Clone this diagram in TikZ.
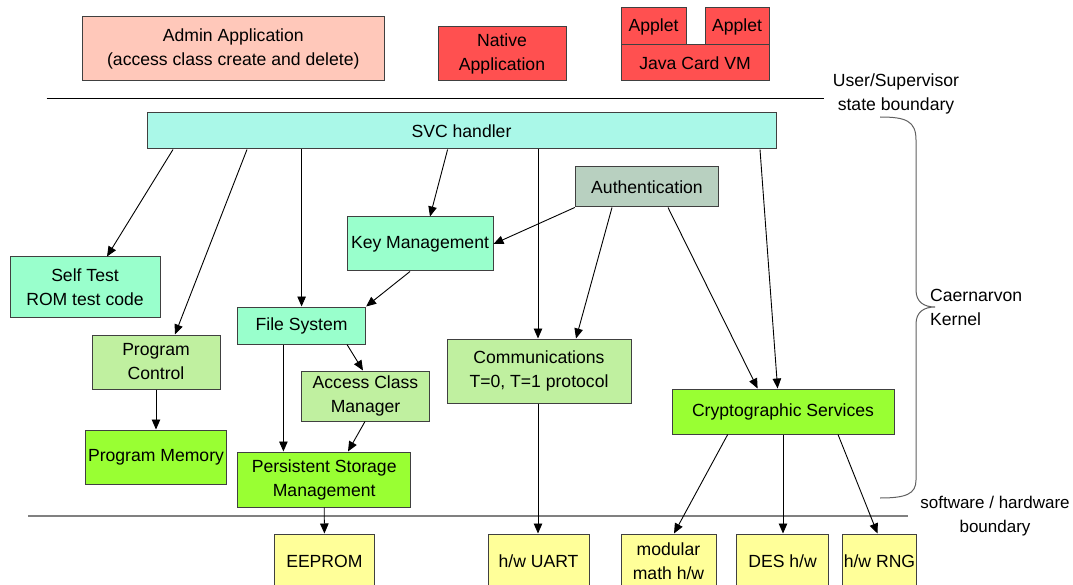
\documentclass[tikz,border=0pt]{standalone}
\usepackage{fontspec}
\setmainfont{Liberation Sans}
\usetikzlibrary{arrows.meta}
\definecolor{bordercol}{HTML}{404040}
\definecolor{adminfill}{HTML}{FFC8BA}
\definecolor{redfill}{HTML}{FF5050}
\definecolor{svcfill}{HTML}{AAF8E8}
\definecolor{aquafill}{HTML}{99FFCC}
\definecolor{authfill}{HTML}{B8D0C0}
\definecolor{lgreenfill}{HTML}{C0F0A0}
\definecolor{greenfill}{HTML}{99FF33}
\definecolor{hwfill}{HTML}{FFFF99}
\definecolor{bracecol}{HTML}{606060}
\definecolor{hwline}{HTML}{808080}
\begin{document}
\begin{tikzpicture}[x=1pt,y=-1pt,
  box/.style={draw=bordercol, line width=1pt, inner sep=0pt, align=center,
    font=\fontsize{17.6}{24}\selectfont},
  lbl/.style={inner sep=0pt, align=center, font=\fontsize{17.6}{24}\selectfont},
  arr/.style={draw=black, line width=0.9pt, -{Triangle[length=10pt,width=8.5pt]}}
]
\useasboundingbox (0,0) rectangle (1073,585);
\clip (0,0) rectangle (1073,585);
% top applications
\node[box, fill=adminfill, minimum width=301.4pt, minimum height=64pt] (admin) at (233.3,49) {Admin Application\\(access class create and delete)};
\node[box, fill=redfill, minimum width=128pt, minimum height=54pt] (native) at (502,54) {Native\\Application};
\node[box, fill=redfill, minimum width=65pt, minimum height=37pt] (applet1) at (653.5,26.5) {Applet};
\node[box, fill=redfill, minimum width=64pt, minimum height=37pt] (applet2) at (737,26.5) {Applet};
\node[box, fill=redfill, minimum width=148pt, minimum height=36pt] (jcvm) at (695,63) {Java Card VM};
% boundaries
\coordinate (usl) at (46.5,99);
\coordinate (usr) at (824,99);
\draw[line width=1pt] (usl) -- (usr);
\node[lbl] (uslabel) at (896,94) {User/Supervisor\\state boundary};
\coordinate (hwl) at (28,516);
\coordinate (hwr) at (908,516);
\draw[hwline, line width=1.5pt] (hwl) -- (hwr);
\node[lbl, font=\fontsize{17}{24}\selectfont] (hwlabel) at (995,516.5) {software / hardware\\boundary};
% kernel
\node[box, fill=svcfill, minimum width=629pt, minimum height=36pt] (svc) at (461.5,131) {SVC handler};
\node[box, fill=authfill, minimum width=143.5pt, minimum height=40pt] (auth) at (647,187) {Authentication};
\node[box, fill=aquafill, minimum width=146pt, minimum height=54pt] (keymgmt) at (420,244) {Key Management};
\node[box, fill=aquafill, minimum width=150pt, minimum height=60pt] (selftest) at (85,287) {Self Test\\ROM test code};
\node[box, fill=aquafill, minimum width=128pt, minimum height=37pt] (filesys) at (301.6,325.5) {File System};
\node[box, fill=lgreenfill, minimum width=128pt, minimum height=54pt] (progctrl) at (156,362) {Program\\Control};
\node[box, fill=lgreenfill, minimum width=128pt, minimum height=50pt] (access) at (365.5,396) {Access Class\\Manager};
\node[box, fill=lgreenfill, minimum width=184pt, minimum height=64pt] (comm) at (539,371) {Communications\\T=0, T=1 protocol};
\node[box, fill=greenfill, minimum width=222pt, minimum height=45pt] (crypto) at (783,411.5) {Cryptographic Services};
\node[box, fill=greenfill, minimum width=141.6pt, minimum height=54pt] (progmem) at (156,457) {Program Memory};
\node[box, fill=greenfill, minimum width=173pt, minimum height=55pt] (persist) at (324.2,479.5) {Persistent Storage\\Management};
% hardware
\node[box, fill=hwfill, minimum width=100pt, minimum height=54pt] (eeprom) at (324.4,561) {EEPROM};
\node[box, fill=hwfill, minimum width=101pt, minimum height=54pt] (uart) at (538.5,561) {h/w UART};
\node[box, fill=hwfill, minimum width=95pt, minimum height=54pt] (modmath) at (668.5,561) {modular\\math h/w};
\node[box, fill=hwfill, minimum width=92pt, minimum height=54pt] (des) at (782.6,561) {DES h/w};
\node[box, fill=hwfill, minimum width=73.7pt, minimum height=54pt] (rng) at (879.5,561) {h/w RNG};
% brace and kernel label
\draw[bracecol, line width=1pt] (880,117) .. controls (906,117) and (916,121) .. (916,140)
  -- (916,290) .. controls (916,302) and (924,307) .. (935,307)
  .. controls (924,307) and (916,312) .. (916,324)
  -- (916,480) .. controls (916,494) and (906,498) .. (880,498);
\node[lbl, align=left, anchor=west] (kernel) at (930,307.5) {Caernarvon\\Kernel};
% connectors
\draw[arr] (173,0 |- svc.south) -- (107,0 |- selftest.north);
\draw[arr] (247,0 |- svc.south) -- (175,0 |- progctrl.north);
\draw[arr] (301.6,0 |- svc.south) -- (301.6,0 |- filesys.north);
\draw[arr] (447.6,0 |- svc.south) -- (430,0 |- keymgmt.north);
\draw[arr] (538,0 |- svc.south) -- (538,0 |- comm.north);
\draw[arr] (760,0 |- svc.south) -- (777.6,0 |- crypto.north);
\draw[arr] (auth.south west) -- (keymgmt.east);
\draw[arr] (612,0 |- auth.south) -- (576,0 |- comm.north);
\draw[arr] (668,0 |- auth.south) -- (757.6,0 |- crypto.north);
\draw[arr] (410,0 |- keymgmt.south) -- (filesys.north east);
\draw[arr] (347,0 |- filesys.south) -- (363,0 |- access.north);
\draw[arr] (283.4,0 |- filesys.south) -- (283.4,0 |- persist.north);
\draw[arr] (progctrl.south) -- (progmem.north);
\draw[arr] (365,0 |- access.south) -- (348,0 |- persist.north);
\draw[arr] (persist.south) -- (eeprom.north);
\draw[arr] (538,0 |- comm.south) -- (538,0 |- uart.north);
\draw[arr] (727.7,0 |- crypto.south) -- (674,0 |- modmath.north);
\draw[arr] (783,0 |- crypto.south) -- (783,0 |- des.north);
\draw[arr] (838,0 |- crypto.south) -- (877.5,0 |- rng.north);
\end{tikzpicture}
\end{document}
